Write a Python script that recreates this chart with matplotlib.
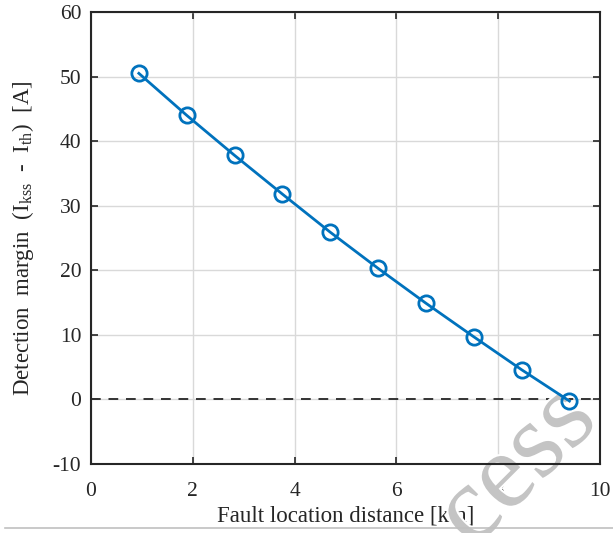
import matplotlib
matplotlib.use('Agg')
import matplotlib.pyplot as plt
import matplotlib.patheffects as pe
from matplotlib.lines import Line2D

# data
distance_km = [0.94, 1.88, 2.82, 3.76, 4.70, 5.64, 6.58, 7.52, 8.46, 9.40]
margin_A = [50.5, 44.0, 37.8, 31.8, 25.9, 20.3, 14.9, 9.7, 4.6, -0.25]
x_ticks = [0, 2, 4, 6, 8, 10]
y_ticks = [-10, 0, 10, 20, 30, 40, 50, 60]

plt.rcParams['font.family'] = ['Liberation Serif', 'DejaVu Serif']
plt.rcParams['mathtext.fontset'] = 'custom'
plt.rcParams['mathtext.rm'] = 'Liberation Serif'
plt.rcParams['mathtext.it'] = 'Liberation Serif:italic'
plt.rcParams['axes.unicode_minus'] = False

fig = plt.figure(figsize=(6.13, 5.33), dpi=100)
ax = fig.add_axes([91/613, 1 - 464/533, (600-91)/613, (464-12)/533])

ax.grid(True, color='#d9d9d9', linewidth=1.0)
ax.set_axisbelow(True)
ax.axhline(0, color='#333333', linestyle=(0, (5, 4)), linewidth=1.4, zorder=2)
ax.plot(distance_km, margin_A, color='#0072BD', linewidth=2.0, marker='o',
        markersize=11, markerfacecolor='none', markeredgewidth=2.0, zorder=3)

ax.set_xlim(0, 10)
ax.set_ylim(-10, 60)
ax.set_xticks(x_ticks)
ax.set_yticks(y_ticks)
ax.tick_params(direction='in', top=True, right=True, length=5, width=1.2,
               labelsize=15.5, colors='#262626')
ax.tick_params(axis='x', pad=13)
ax.tick_params(axis='y', pad=7)
for s in ax.spines.values():
    s.set_color('#262626')
    s.set_linewidth(1.5)

ax.set_xlabel('Fault location distance [km]', fontsize=16.5, color='#262626', labelpad=3)
ax.set_ylabel(r'Detection  margin  (I$_{\rm kss}$  -  I$_{\rm th}$)  [A]',
              fontsize=16.5, color='#262626', labelpad=12)

# page watermark fragment (drawn under the data line)
ax.text(0.845, 0.122, 'cess', transform=fig.transFigure, fontsize=78,
        family='Liberation Serif', color='#c4c4c4', rotation=45,
        ha='center', va='center', clip_on=False, zorder=2.5,
        path_effects=[pe.withStroke(linewidth=3, foreground='white')])
fig.add_artist(Line2D([5/613, 1], [1 - 528/533, 1 - 528/533],
                      color='#c0c0c0', linewidth=1.2))

fig.savefig('out.png', dpi=100)
